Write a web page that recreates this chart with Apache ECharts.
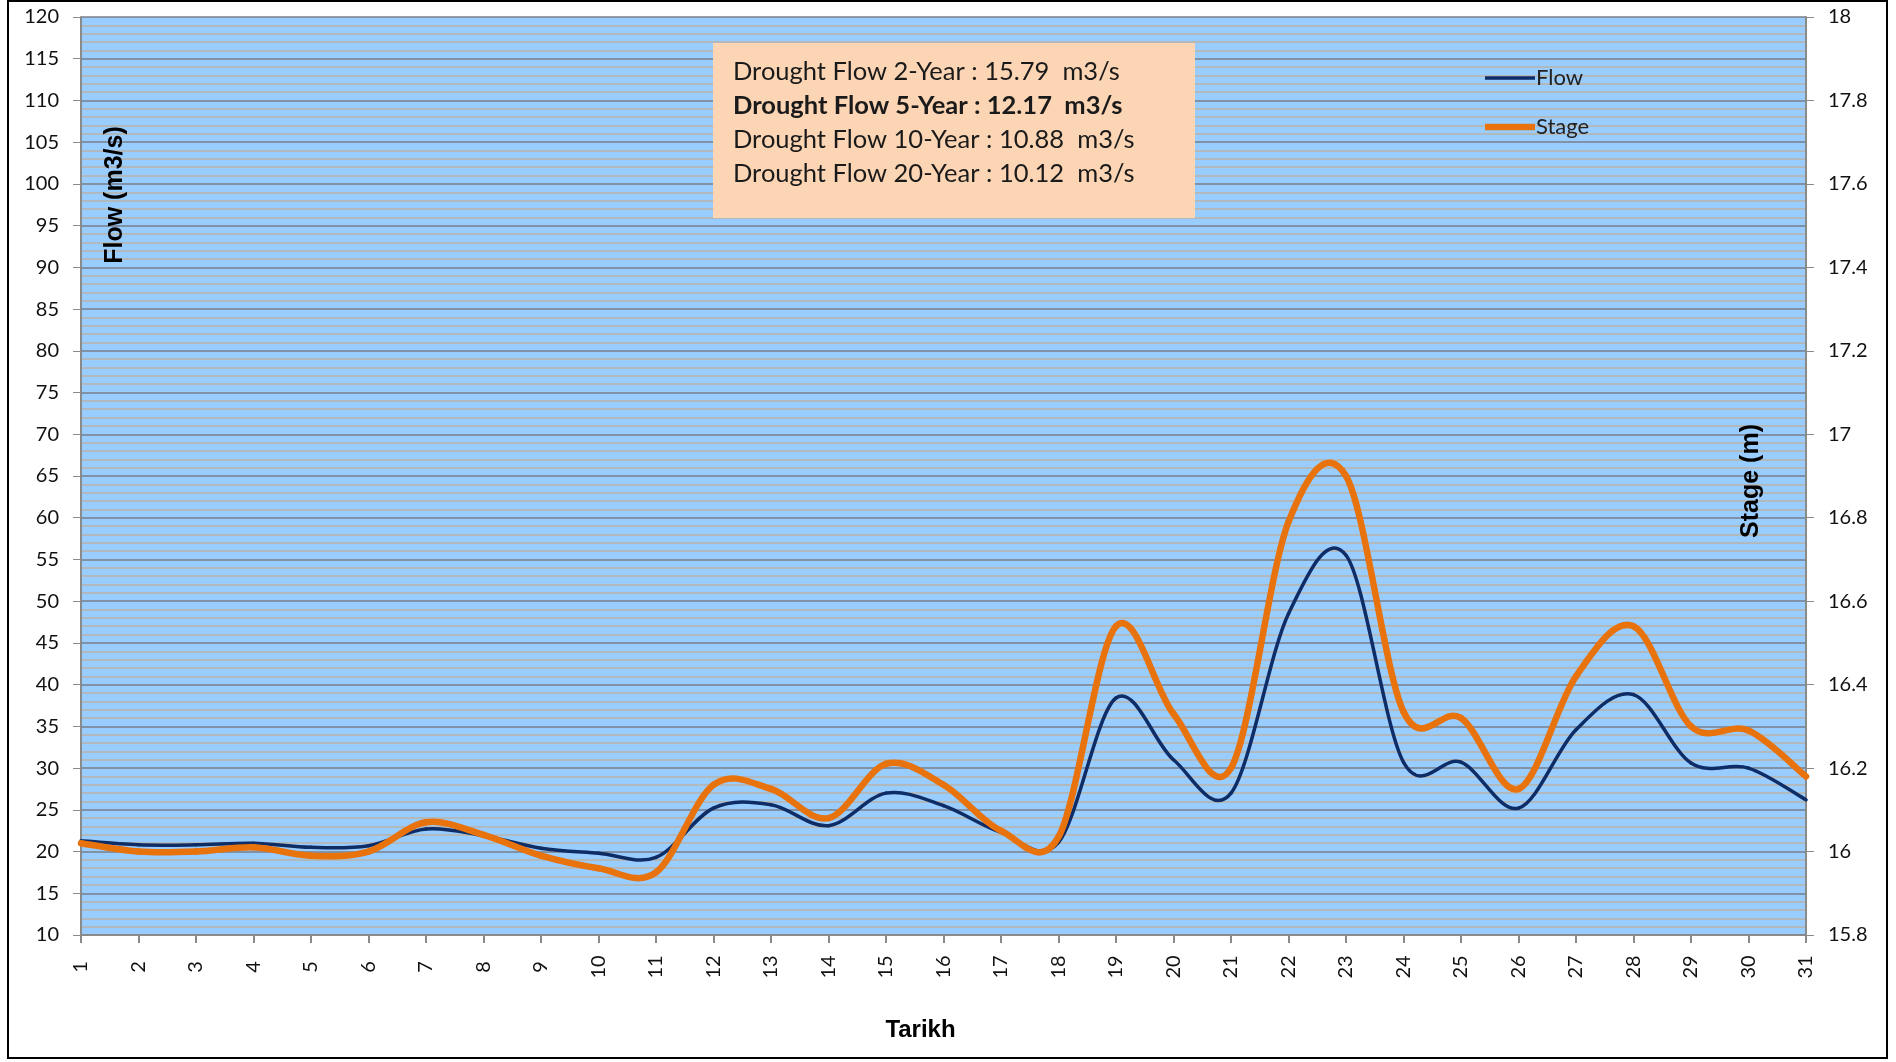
<!DOCTYPE html>
<html>
<head>
<meta charset="utf-8">
<script src="https://cdn.jsdelivr.net/npm/echarts@6/dist/echarts.min.js"></script>
<style>
  html, body { margin: 0; padding: 0; background: #fff; }
  #chart { width: 1896px; height: 1062px; }
</style>
</head>
<body>
<div id="chart"></div>
<script>
// days of the month (Tarikh)
const days = ['1','2','3','4','5','6','7','8','9','10','11','12','13','14','15','16',
  '17','18','19','20','21','22','23','24','25','26','27','28','29','30','31'];

// flow (m3/s), left axis
const flow = [21.3, 20.8, 20.8, 21.0, 20.5, 20.7, 22.7, 21.9, 20.4, 19.8, 19.3,
  25.2, 25.6, 23.1, 27.0, 25.5, 22.3, 21.1, 38.4, 31.0, 27.0, 48.5, 55.5,
  30.7, 30.7, 25.2, 34.6, 38.8, 30.6, 30.0, 26.2];

// stage (m), right axis
const stage = [16.02, 16.00, 16.00, 16.01, 15.99, 16.00, 16.07, 16.04, 15.99, 15.96, 15.95,
  16.16, 16.15, 16.08, 16.21, 16.16, 16.05, 16.035, 16.54, 16.33, 16.20, 16.79, 16.90,
  16.335, 16.32, 16.15, 16.42, 16.54, 16.30, 16.29, 16.18];

const notes = [
  'Drought Flow 2-Year : 15.79  m3/s',
  'Drought Flow 5-Year : 12.17  m3/s',
  'Drought Flow 10-Year : 10.88  m3/s',
  'Drought Flow 20-Year : 10.12  m3/s'
];

const font = 'Lato, "Open Sans", sans-serif';
const boldFont = '"Liberation Sans", Arial, sans-serif';
const myChart = echarts.init(document.getElementById('chart'));

// excel style smoothed line: one bezier segment per point (catmull-rom)
function smoothSegment(vals, color, width) {
    return function (params, api) {
        const i = params.dataIndex;
        const n = vals.length;
        if (i >= n - 1) return null;
        const pt = k => {
            const kk = Math.max(0, Math.min(n - 1, k));
            return api.coord([kk, vals[kk]]);
        };
        const p0 = pt(i - 1), p1 = pt(i), p2 = pt(i + 1), p3 = pt(i + 2);
        return {
            type: 'bezierCurve',
            shape: {
                x1: p1[0], y1: p1[1], x2: p2[0], y2: p2[1],
                cpx1: p1[0] + (p2[0] - p0[0]) / 6,
                cpy1: p1[1] + (p2[1] - p0[1]) / 6,
                cpx2: p2[0] - (p3[0] - p1[0]) / 6,
                cpy2: p2[1] - (p3[1] - p1[1]) / 6
            },
            style: { stroke: color, lineWidth: width, fill: 'none', lineCap: 'round' }
        };
    };
}

const noteText = notes.map((t, i) => ({
    type: 'text',
    x: 733,
    y: 72 + i * 34,
    z: 20,
    style: {
        text: t,
        font: (i == 1 ? 'bold ' : '') + '25.5px ' + font,
        fill: '#1a1a1a',
        textVerticalAlign: 'middle'
    }
}));

const option = {
    backgroundColor: '#fff',
    animation: false,
    grid: {
        left: 81, right: 90, top: 17, bottom: 127,
        show: true, backgroundColor: '#99CCFF', borderWidth: 0
    },
    legend: {
        orient: 'vertical',
        left: 1480, top: 62,
        itemWidth: 50, itemHeight: 14, itemGap: 27,
        textStyle: { fontFamily: font, fontSize: 22, color: '#222', padding: [0, 0, 0, -4] },
        data: [
            { name: 'Flow', icon: 'path://M0,0H50V3.5H0Z' },
            { name: 'Stage', icon: 'path://M0,0H50V6.5H0Z' }
        ]
    },
    xAxis: {
        type: 'category',
        data: days,
        boundaryGap: false,
        axisLine: { lineStyle: { color: '#8a8a8a', width: 2 } },
        axisTick: { length: 8, lineStyle: { color: '#8a8a8a', width: 2 } },
        axisLabel: {
            rotate: 90, align: 'center', verticalAlign: 'middle', margin: 32,
            fontFamily: font, fontSize: 20, color: '#111'
        },
        name: 'Tarikh',
        nameLocation: 'middle',
        nameGap: 83,
        nameTextStyle: {
            fontFamily: boldFont, fontWeight: 'bold',
            fontSize: 24, color: '#000', padding: [0, 46, 0, 0]
        }
    },
    yAxis: [
        {
            type: 'value',
            min: 10, max: 120, interval: 5,
            axisLine: { show: true, lineStyle: { color: '#8a8a8a', width: 2 } },
            axisTick: { show: true, length: 8, lineStyle: { color: '#8a8a8a', width: 1 } },
            axisLabel: { margin: 22, fontFamily: font, fontSize: 20, color: '#111' },
            splitLine: { show: true, lineStyle: { color: '#7a7f88', width: 1.5 } },
            minorTick: { show: false, splitNumber: 5 },
            minorSplitLine: { show: true, lineStyle: { color: '#b9b3a6', width: 1.5 } }
        },
        {
            type: 'value',
            min: 15.8, max: 18, interval: 0.2,
            axisLine: { show: true, lineStyle: { color: '#8a8a8a', width: 2 } },
            axisTick: { show: true, length: 8, lineStyle: { color: '#8a8a8a', width: 1 } },
            axisLabel: {
                margin: 22, fontFamily: font, fontSize: 20, color: '#111',
                formatter: v => String(Math.round(v * 10) / 10)
            },
            splitLine: { show: false }
        }
    ],
    series: [
        {
            name: 'Flow',
            type: 'custom',
            yAxisIndex: 0,
            data: flow.map((v, i) => [i, v]),
            encode: { x: 0, y: 1 },
            itemStyle: { color: '#0E2C66' },
            renderItem: smoothSegment(flow, '#0E2C66', 3.5),
            z: 2
        },
        {
            name: 'Stage',
            type: 'custom',
            yAxisIndex: 1,
            data: stage.map((v, i) => [i, v]),
            encode: { x: 0, y: 1 },
            itemStyle: { color: '#E8720C' },
            renderItem: smoothSegment(stage, '#E8720C', 6.5),
            z: 3
        }
    ],
    graphic: [
        {
            type: 'rect',
            shape: { x: 8, y: 1, width: 1879, height: 1057 },
            style: { fill: 'none', stroke: '#000', lineWidth: 2 },
            z: 30
        },
        {
            type: 'rect',
            shape: { x: 713, y: 43, width: 482, height: 175 },
            style: { fill: '#FCD5B4' },
            z: 15
        },
        ...noteText,
        {
            type: 'text',
            x: 115, y: 195,
            rotation: Math.PI / 2,
            z: 20,
            style: {
                text: 'Flow (m3/s)',
                font: 'bold 25px ' + boldFont,
                fill: '#000', textAlign: 'center', textVerticalAlign: 'middle'
            }
        },
        {
            type: 'text',
            x: 1751, y: 481,
            rotation: Math.PI / 2,
            z: 20,
            style: {
                text: 'Stage (m)',
                font: 'bold 25px ' + boldFont,
                fill: '#000', textAlign: 'center', textVerticalAlign: 'middle'
            }
        }
    ]
};

myChart.setOption(option);
</script>
</body>
</html>
